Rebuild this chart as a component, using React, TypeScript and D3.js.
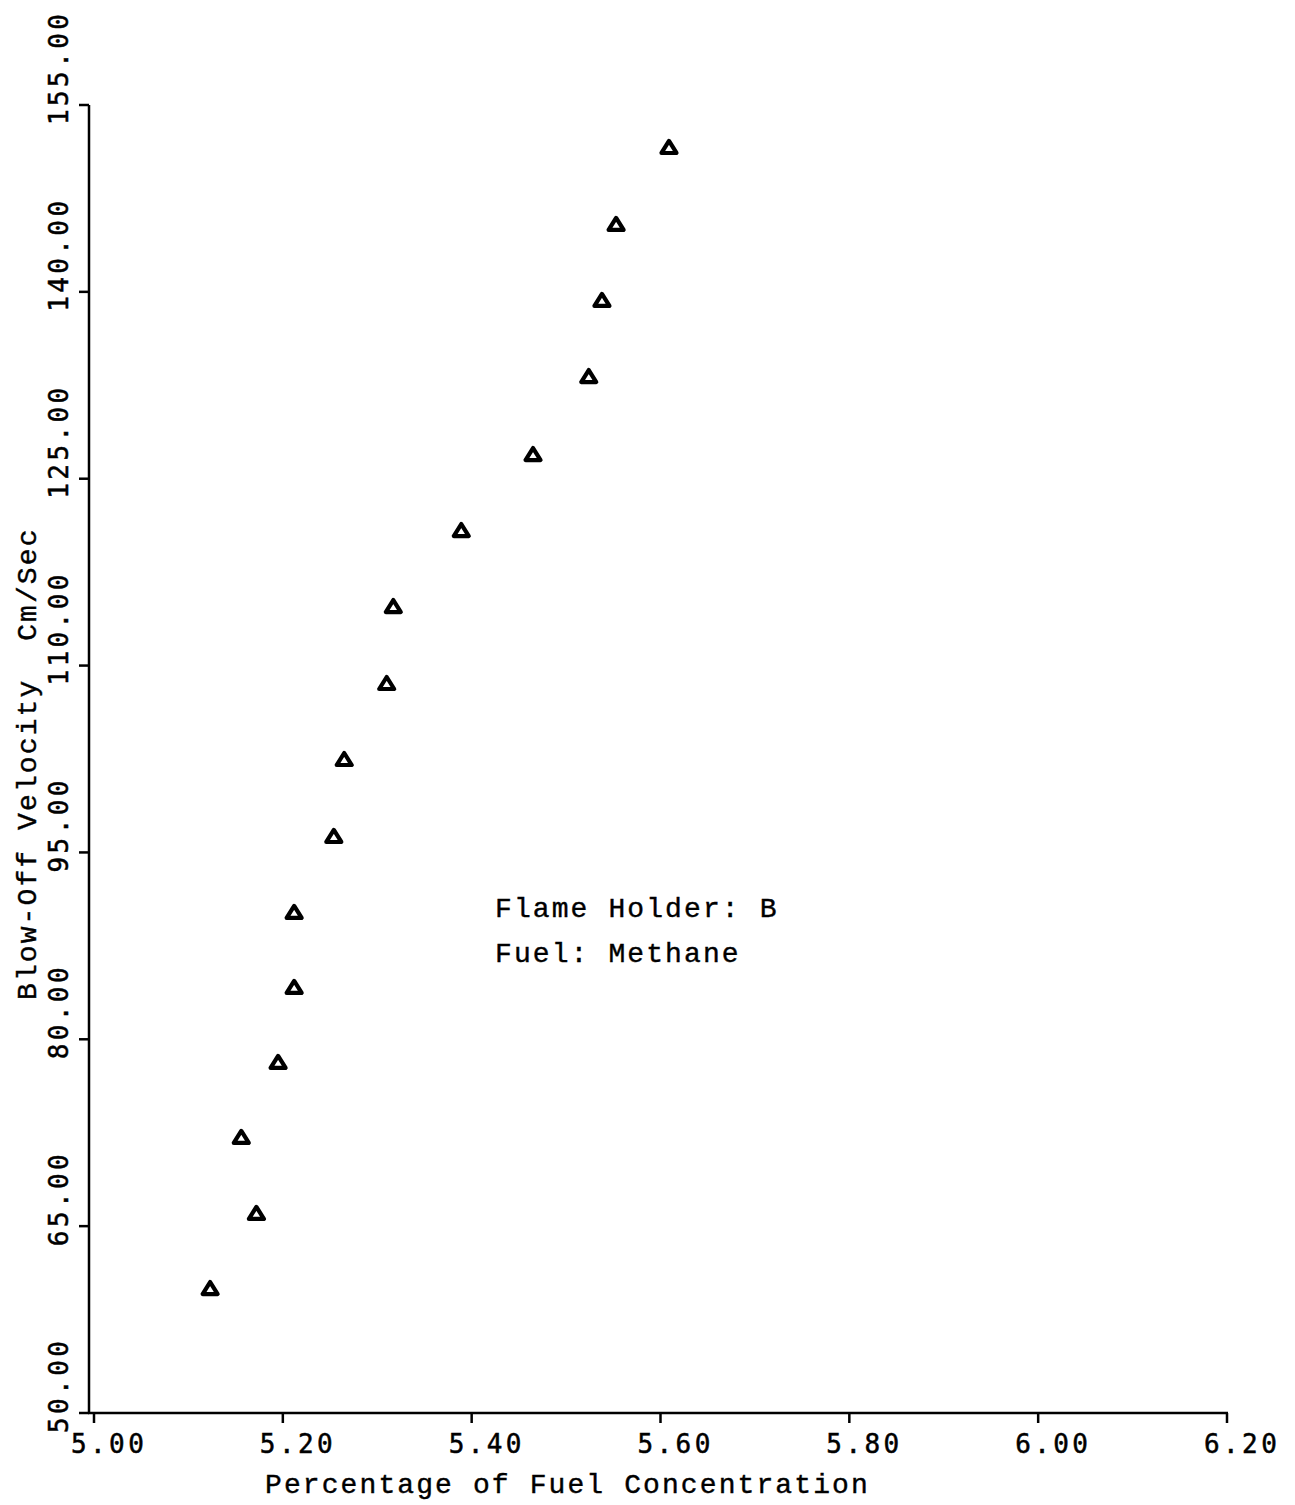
import React from "react";
import * as d3 from "d3";

// Data
const fuelConcentration: number[] = [
  5.123, 5.172, 5.156, 5.195, 5.212, 5.212, 5.254, 5.265,
  5.31, 5.317, 5.389, 5.465, 5.524, 5.538, 5.553, 5.609,
];
const blowOffVelocity: number[] = [
  60.03, 66.06, 72.16, 78.18, 84.2, 90.22, 96.32, 102.5,
  108.6, 114.78, 120.88, 126.98, 133.24, 139.35, 145.45, 151.63,
];
const xTickValues: number[] = [5.0, 5.2, 5.4, 5.6, 5.8, 6.0, 6.2];
const yTickValues: number[] = [50, 65, 80, 95, 110, 125, 140, 155];
const xTitle = "Percentage of Fuel Concentration";
const yTitle = "Blow-Off Velocity  Cm/Sec";
const annotationLines: string[] = ["Flame Holder: B", "Fuel: Methane"];

const W = 1295;
const H = 1505;
const TITLE_FONT = "'Liberation Mono', 'DejaVu Sans Mono', monospace";
const TICK_FONT = "'DejaVu Sans Mono', 'Liberation Mono', monospace";

export default function App() {
  const x = d3.scaleLinear().domain([5.0, 6.2]).range([94, 1227]);
  const y = d3.scaleLinear().domain([50, 155]).range([1413, 105]);
  const fmt = d3.format(".2f");
  const axisX0 = 89;

  const tri = "M0,-6.5 L7.5,5.5 L-7.5,5.5 Z";

  return (
    <svg
      width={W}
      height={H}
      viewBox={`0 0 ${W} ${H}`}
      style={{ position: "absolute", left: 0, top: 0, background: "#fff" }}
    >
      <rect x={0} y={0} width={W} height={H} fill="#fff" />
      {/* Y axis */}
      <line x1={axisX0} y1={y(50) + 1} x2={axisX0} y2={y(155)} stroke="#000" strokeWidth={2.5} />
      {yTickValues.map((v) => (
        <g key={"yt" + v}>
          <line x1={axisX0 - 10} y1={y(v)} x2={axisX0} y2={y(v)} stroke="#000" strokeWidth={2.5} />
          <text
            transform={`translate(68, ${y(v) + 20}) rotate(-90)`}
            fontFamily={TICK_FONT}
            fontSize={26}
            letterSpacing={3.4}
            fill="#000"
            stroke="#000"
            strokeWidth={0.5}
            textAnchor="start"
          >
            {fmt(v)}
          </text>
        </g>
      ))}
      {/* X axis */}
      <line x1={axisX0 - 1} y1={y(50)} x2={x(6.2) + 1} y2={y(50)} stroke="#000" strokeWidth={2.5} />
      {xTickValues.map((v) => (
        <g key={"xt" + v}>
          <line x1={x(v)} y1={y(50)} x2={x(v)} y2={y(50) + 10} stroke="#000" strokeWidth={2.5} />
          <text
            x={x(v) - 23}
            y={1453}
            fontFamily={TICK_FONT}
            fontSize={26}
            letterSpacing={3.4}
            fill="#000"
            stroke="#000"
            strokeWidth={0.5}
            textAnchor="start"
          >
            {fmt(v)}
          </text>
        </g>
      ))}
      {/* Axis titles */}
      <text
        x={265}
        y={1493}
        fontFamily={TITLE_FONT}
        fontSize={28}
        letterSpacing={2.1}
        fill="#000"
        stroke="#000"
        strokeWidth={0.4}
      >
        {xTitle}
      </text>
      <text
        transform={`translate(36, 1000) rotate(-90)`}
        fontFamily={TITLE_FONT}
        fontSize={28}
        letterSpacing={2.1}
        fill="#000"
        stroke="#000"
        strokeWidth={0.4}
        style={{ whiteSpace: "pre" }}
      >
        {yTitle}
      </text>
      {/* Annotation */}
      {annotationLines.map((t, i) => (
        <text
          key={"ann" + i}
          x={495}
          y={917 + i * 45}
          fontFamily={TITLE_FONT}
          fontSize={28}
          letterSpacing={2.1}
          fill="#000"
          stroke="#000"
          strokeWidth={0.4}
        >
          {t}
        </text>
      ))}
      {/* Points */}
      {fuelConcentration.map((fc, i) => (
        <path
          key={"p" + i}
          d={tri}
          transform={`translate(${x(fc)}, ${y(blowOffVelocity[i]) + 0.5})`}
          fill="#fff"
          stroke="#000"
          strokeWidth={4.2}
          strokeLinejoin="round"
        />
      ))}
    </svg>
  );
}
